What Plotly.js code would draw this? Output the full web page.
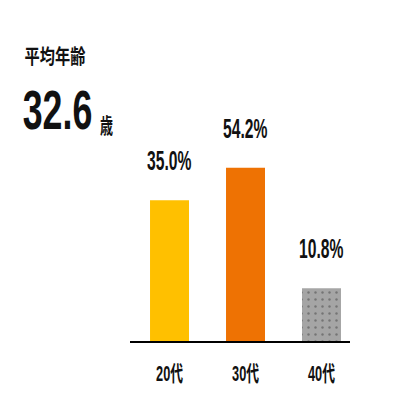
<!DOCTYPE html>
<html><head><meta charset="utf-8">
<script src="https://cdn.plot.ly/plotly-3.0.1.min.js"></script>
<style>html,body{margin:0;padding:0;background:#fff;}#c{width:419px;height:419px;}</style>
</head><body><div id="c"></div>
<script>
const categories = ['20代', '30代', '40代'];
const shares = [35.0, 54.2, 10.8];
const shareLabels = ['35.0%', '54.2%', '10.8%'];
const barColors = ['#FFC000', '#EE7203', '#A5A5A5'];
const titleText = '平均年齢';
const avgAge = '32.6';
const avgUnit = '歳';

const fam = 'Liberation Sans, Arial, Noto Sans CJK JP, sans-serif';
const cjk = 'Noto Sans CJK JP, sans-serif';

const trace = {
  type: 'bar',
  x: categories,
  y: shares,
  width: 0.513,
  marker: {
    color: barColors,
    line: {width: 0},
    pattern: {shape: ['', '', '.'], fgcolor: '#B3B3B3', size: 7, solidity: 0.1, fillmode: 'overlay'}
  },
  hoverinfo: 'none'
};

// horizontal squeeze per annotation (style only)
const squeeze = [];
const annotations = categories.map((c, i) => {
  squeeze.push(0.58);
  return {
    x: c, y: Math.log10(shares[i]), xref: 'x', yref: 'y',
    text: shareLabels[i], showarrow: false, yanchor: 'middle', yshift: 39,
    font: {family: fam, size: 27, color: '#111', weight: 'bold'}
  };
});
annotations.push({
  xref: 'paper', yref: 'paper', x: -0.343, y: 1.183, xanchor: 'center', yanchor: 'middle',
  text: titleText, showarrow: false,
  font: {family: cjk, size: 20, color: '#111', weight: 'bold'}
}); squeeze.push(0.76);
annotations.push({
  xref: 'paper', yref: 'paper', x: -0.328, y: 0.958, xanchor: 'center', yanchor: 'middle',
  text: avgAge, showarrow: false,
  font: {family: fam, size: 55, color: '#111', weight: 'bold'}
}); squeeze.push(0.65);
annotations.push({
  xref: 'paper', yref: 'paper', x: -0.107, y: 0.900, xanchor: 'center', yanchor: 'middle',
  text: avgUnit, showarrow: false,
  font: {family: cjk, size: 21, color: '#111', weight: 'bold'}
}); squeeze.push(0.62);

const layout = {
  width: 419, height: 419,
  margin: {l: 130, r: 69, t: 100, b: 78},
  paper_bgcolor: '#fff', plot_bgcolor: '#fff',
  showlegend: false,
  xaxis: {
    type: 'category', range: [-0.52, 2.375],
    showline: true, linecolor: '#000', linewidth: 2,
    ticks: '', showgrid: false, zeroline: false, fixedrange: true,
    tickfont: {family: fam, size: 22, color: '#111', weight: 'bold'},
    ticklabelstandoff: 12
  },
  yaxis: {
    type: 'log', range: [0.727, 2.127],
    visible: false, showgrid: false, zeroline: false
  },
  annotations: annotations
};

function squeezeText(el, s) {
  const bb = el.getBBox();
  const cx = bb.x + bb.width / 2;
  const prev = el.getAttribute('transform') || '';
  el.setAttribute('transform', prev + ' translate(' + cx + ',0) scale(' + s + ',1) translate(' + (-cx) + ',0)');
}

Plotly.newPlot('c', [trace], layout, {staticPlot: true, displayModeBar: false}).then(gd => {
  gd.querySelectorAll('.annotation').forEach(a => {
    const idx = +a.getAttribute('data-index');
    const t = a.querySelector('text');
    if (t && squeeze[idx]) squeezeText(t, squeeze[idx]);
  });
  gd.querySelectorAll('.xtick text').forEach(t => squeezeText(t, 0.58));
});
</script></body></html>
